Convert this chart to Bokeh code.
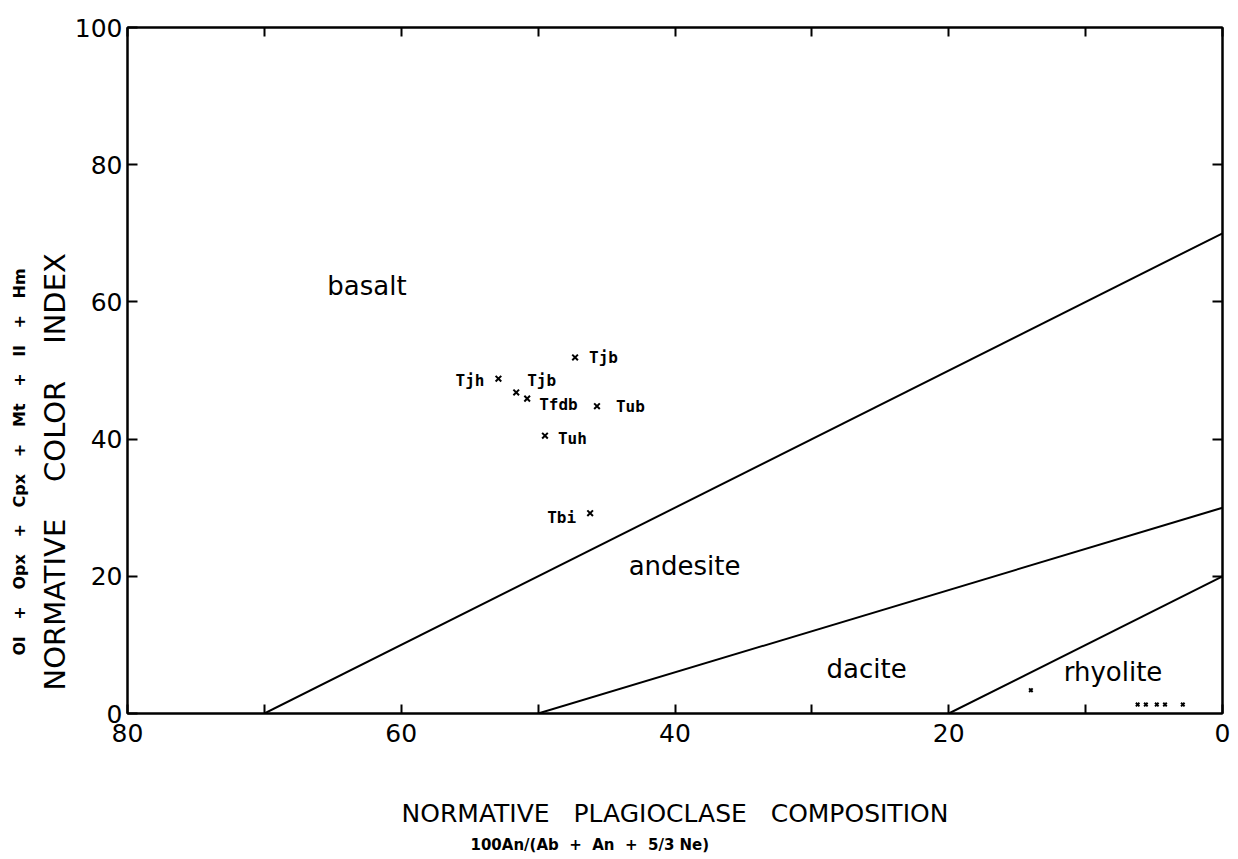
import math
from bokeh.plotting import figure
from bokeh.models import Range1d, FixedTicker, LinearAxis, Title, ColumnDataSource
from bokeh.core.properties import value
from bokeh.embed import file_html
from bokeh.resources import INLINE

# ---- data ----
# field boundaries (x = plagioclase composition, y = color index)
boundary_names = ["basalt/andesite", "andesite/dacite", "dacite/rhyolite"]
boundary_x = [[70, 0], [50, 0], [20, 0]]
boundary_y = [[0, 70], [0, 30], [0, 20]]

# field names
field_names = ["basalt", "andesite", "dacite", "rhyolite"]
field_x = [62.5, 39.3, 26.0, 8.0]
field_y = [62.3, 21.5, 6.5, 6.0]

# labelled samples
sample_x = [47.3, 52.9, 51.6, 50.8, 45.7, 49.5, 46.2]
sample_y = [51.9, 48.8, 46.8, 45.9, 44.8, 40.5, 29.2]
sample_names = ["Tjb", "Tjh", "Tjb", "Tfdb", "Tub", "Tuh", "Tbi"]
name_dx = [14, -14, 11, 12, 19, 13, -14]
name_dy = [0, 2, -12, 6, 0, 3, 4]
name_align = ["left", "right", "left", "left", "left", "left", "right"]

# unlabelled rhyolite samples
rhy_x = [14.0, 6.2, 5.6, 4.8, 4.2, 2.9]
rhy_y = [3.4, 1.3, 1.3, 1.3, 1.3, 1.3]

x_ticks = list(range(0, 81, 10))
x_tick_labels = {10: "", 30: "", 50: "", 70: ""}
y_ticks = [0, 20, 40, 60, 80, 100]
y_ticks_right = [20, 40, 60, 80]

NB = "\u00a0"
x_title = (" " + NB * 2).join(["NORMATIVE", "PLAGIOCLASE", "COMPOSITION"])
x_subtitle = "100An/(Ab" + NB + " + " + NB + "An" + NB + " + " + NB + "5/3 Ne)"
y_title = (" " + NB * 3).join(["NORMATIVE", "COLOR", "INDEX"])
y_subtitle = (NB * 2 + " + " + NB * 2).join(["Ol", "Opx", "Cpx", "Mt", "Il", "Hm"])

FONT = "DejaVu Sans"

p = figure(width=1238, height=859, output_backend="svg", toolbar_location=None,
           x_range=Range1d(80, 0), y_range=Range1d(0, 100),
           x_axis_location=None, y_axis_location=None,
           min_border_left=127, min_border_right=16,
           min_border_top=27, min_border_bottom=146)
p.grid.visible = False
p.outline_line_color = "black"
p.outline_line_width = 2
p.background_fill_color = "white"
p.border_fill_color = "white"

def style(ax, ticks, show_labels, tick_len):
    ax.ticker = FixedTicker(ticks=ticks)
    ax.axis_line_color = "black"
    ax.axis_line_width = 2
    ax.major_tick_in = tick_len
    ax.major_tick_out = 0
    ax.major_tick_line_width = 2
    ax.minor_tick_line_color = None
    if show_labels:
        ax.major_label_text_font = FONT
        ax.major_label_text_font_size = "25px"
        ax.major_label_text_color = "black"
    else:
        ax.major_label_overrides = {t: "" for t in ticks}
        ax.major_label_standoff = 0

bx = LinearAxis(axis_label=x_title)
style(bx, x_ticks, True, 9)
bx.major_label_overrides = x_tick_labels
bx.major_label_standoff = 10
bx.axis_label_text_font = FONT
bx.axis_label_text_font_size = "25px"
bx.axis_label_text_font_style = "normal"
bx.axis_label_text_color = "black"
bx.axis_label_standoff = 54
p.add_layout(bx, "below")

tx = LinearAxis()
style(tx, x_ticks, False, 9)
p.add_layout(tx, "above")

ly = LinearAxis()
style(ly, y_ticks, True, 10)
ly.major_label_standoff = 5
p.add_layout(ly, "left")

ry = LinearAxis()
style(ry, y_ticks_right, False, 10)
p.add_layout(ry, "right")

# axis sub-titles and y title
p.add_layout(Title(text=x_subtitle, align="left", offset=343, text_font=FONT,
                   text_font_size="15px", text_font_style="bold", text_color="black",
                   standoff=6), "below")
p.add_layout(Title(text=y_title, align="left", offset=23, text_font=FONT,
                   text_font_size="29px", text_font_style="normal", text_color="black",
                   standoff=0), "left")
p.add_layout(Title(text=y_subtitle, align="left", offset=58, text_font=FONT,
                   text_font_size="16px", text_font_style="bold", text_color="black",
                   standoff=14), "left")

# boundaries
p.multi_line(xs=boundary_x, ys=boundary_y, line_color="black", line_width=2)

# field names
p.text(x=field_x, y=field_y, text=field_names, text_font=value(FONT),
       text_font_size="26px", text_align="center", text_baseline="middle",
       text_color="black")

# samples
src = ColumnDataSource(dict(x=sample_x, y=sample_y, name=sample_names,
                            dx=name_dx, dy=name_dy, align=name_align))
p.scatter("x", "y", source=src, marker="x", size=8, line_width=2, line_color="black")
p.text("x", "y", text="name", source=src, x_offset="dx", y_offset="dy",
       text_align="align", text_baseline="middle",
       text_font=value("DejaVu Sans Mono"), text_font_size="16px",
       text_font_style="bold", text_color="black")
p.scatter(rhy_x, rhy_y, marker="x", size=5, line_width=2, line_color="black")

open("out.html", "w").write(file_html(p, INLINE))
